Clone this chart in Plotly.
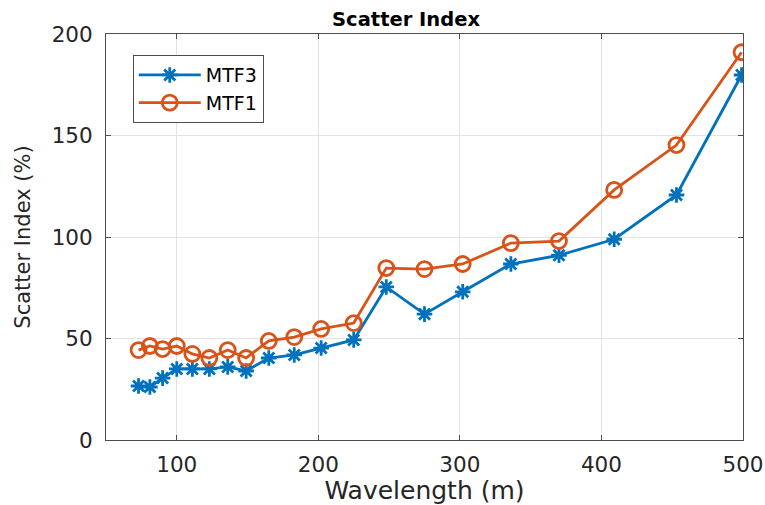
import plotly.graph_objects as go

wavelength = [73, 81, 90, 100, 111, 123, 136, 149, 165, 183, 202, 225, 248, 275, 302, 336, 370, 409, 453, 499]
mtf3 = [26.6, 26.1, 30.5, 35.0, 35.0, 35.0, 36.0, 34.0, 40.4, 41.9, 45.3, 49.3, 75.4, 62.0, 73.0, 86.7, 91.0, 98.9, 120.7, 179.8]
mtf1 = [44.3, 46.3, 44.8, 46.3, 42.4, 40.4, 44.3, 40.4, 48.8, 50.7, 54.7, 57.6, 84.7, 84.2, 86.7, 97.0, 98.0, 123.2, 145.3, 191.0]
x_ticks = [100, 200, 300, 400, 500]
y_ticks = [0, 50, 100, 150, 200]

BLUE = "#0072BD"
ORANGE = "#D95319"
FONT = "DejaVu Sans, Liberation Sans, sans-serif"

fig = go.Figure()
fig.add_trace(go.Scatter(
    x=wavelength, y=mtf3, name="MTF3", mode="lines+markers",
    line=dict(color=BLUE, width=2.8),
    marker=dict(symbol="asterisk-open", size=13, color=BLUE, line=dict(color=BLUE, width=2.8)),
))
fig.add_trace(go.Scatter(
    x=wavelength, y=mtf1, name="MTF1", mode="lines+markers",
    line=dict(color=ORANGE, width=2.8),
    marker=dict(symbol="circle-open", size=15, color=ORANGE, line=dict(color=ORANGE, width=2.8)),
))

axis_common = dict(
    showline=True, linecolor="#4d4d4d", linewidth=1, mirror="ticks",
    ticks="inside", ticklen=5, tickcolor="#4d4d4d",
    showgrid=True, gridcolor="#e3e3e3", gridwidth=1, automargin=False,
    zeroline=False, tickfont=dict(family=FONT, size=21.5, color="#262626"),
)

fig.update_layout(
    width=765, height=505,
    margin=dict(l=106, r=22, t=34, b=65),
    paper_bgcolor="white", plot_bgcolor="white",
    title=dict(text="<b>Scatter Index</b>", x=0.471, xref="paper", xanchor="center",
               yref="container", y=0.962, yanchor="middle",
               font=dict(family=FONT, size=19.5, color="#000000")),
    xaxis=dict(range=[50, 500], tickvals=x_ticks, ticklabelstandoff=5,
               title=dict(text="Wavelength (m)", font=dict(family=FONT, size=25, color="#262626")),
               **axis_common),
    yaxis=dict(range=[0, 200], tickvals=y_ticks, ticklabelstandoff=8,
               title=dict(text="Scatter Index (%)", font=dict(family=FONT, size=21, color="#262626")),
               **axis_common),
    legend=dict(x=0.042, y=0.948, xanchor="left", yanchor="top",
                bgcolor="white", bordercolor="#4d4d4d", borderwidth=1,
                font=dict(family=FONT, size=19, color="#000000"),
                itemwidth=62, tracegroupgap=0),
    showlegend=True,
)

fig.write_html("out.html")
